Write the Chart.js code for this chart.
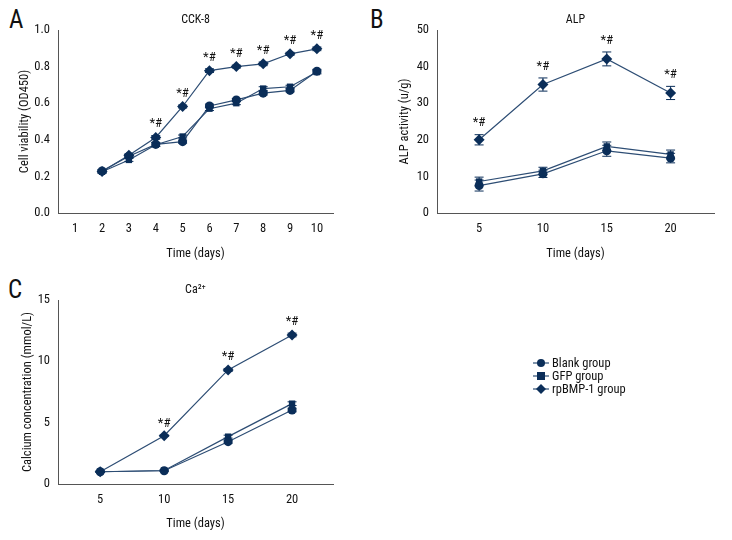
<!DOCTYPE html>
<html><head><meta charset="utf-8">
<script src="https://cdn.jsdelivr.net/npm/chart.js@4"></script>
<style>
body{margin:0;background:#fff;width:732px;height:540px;position:relative;overflow:hidden}
canvas{position:absolute}
.lbl{position:absolute;font-family:'Roboto Condensed','Liberation Sans Narrow','Roboto',sans-serif;font-size:25px;color:#111}
#legend{position:absolute;left:533px;top:356px;font-family:'Roboto Condensed','Liberation Sans Narrow','Roboto',sans-serif;font-size:12.5px;color:#111}
#legend div{height:13px;line-height:13px;display:flex;align-items:center}
#legend span{white-space:nowrap}
#legend canvas{position:static;margin-right:3px}
</style></head>
<body>
<div class="lbl" style="left:9px;top:5px">A</div>
<div class="lbl" style="left:370px;top:5px">B</div>
<div class="lbl" style="left:8px;top:275px">C</div>
<canvas id="cA" width="345" height="265" style="left:0;top:0"></canvas>
<canvas id="cB" width="372" height="265" style="left:360px;top:0"></canvas>
<canvas id="cC" width="345" height="265" style="left:0;top:270px"></canvas>
<div id="legend"></div>
<script>
/* ── data ── */
var GROUPS=['Blank group','GFP group','rpBMP-1 group'];
var STYLES=['circle','rect','rectRot'];

var daysA=[2,3,4,5,6,7,8,9,10];
var blankA=[0.23,0.31,0.375,0.39,0.585,0.618,0.655,0.67,0.775];
var gfpA=[0.225,0.29,0.373,0.418,0.57,0.60,0.68,0.69,0.77];
var bmpA=[0.227,0.315,0.413,0.582,0.778,0.80,0.815,0.87,0.897];
var errA=[0.008,0.008,0.01,0.008,0.01,0.008,0.01,0.008,0.01];
var sigA=[false,false,true,true,true,true,true,true,true];
var ticksA=[0,0.2,0.4,0.6,0.8,1.0];

var daysB=[5,10,15,20];
var blankB=[7.5,10.7,17,15];
var gfpB=[8.6,11.5,18.2,16];
var bmpB=[20,35.1,42.1,32.8];
var errBlankB=[1.5,1,1.5,1.3];
var errGfpB=[1.2,1,1.2,1.2];
var errBmpB=[1.4,1.8,1.9,1.8];
var sigB=[true,true,true,true];

var daysC=[5,10,15,20];
var blankC=[1.0,1.08,3.45,6.03];
var gfpC=[1.0,1.1,3.86,6.55];
var bmpC=[1.0,3.94,9.3,12.15];
var errC=[0.05,0.05,0.12,0.15];
var sigC=[false,true,true,true];

var NAVY='#0b2e59', LINE='#2d4d74', AXIS='#555';
var FONT="'Roboto Condensed','Liberation Sans Narrow','Roboto',sans-serif";

function pts(xs,ys){ return xs.map(function(x,i){return {x:x,y:ys[i]};}); }
function ds(i,xs,ys,err){
  return {label:GROUPS[i],data:pts(xs,ys),err:err,pointStyle:STYLES[i],
    pointRadius:i===2?5.5:4.5,backgroundColor:NAVY,borderColor:LINE,pointBorderColor:NAVY,
    borderWidth:1.2,pointBorderWidth:0,tension:0};
}

/* error bars + "*#" marks + panel title */
var extras={
  id:'extras',
  afterDatasetsDraw:function(chart){
    var c=chart.ctx, xs=chart.scales.x, ys=chart.scales.y, o=chart.options.plugins.extras;
    c.save();
    c.strokeStyle=NAVY;c.lineWidth=1;
    chart.data.datasets.forEach(function(d){
      d.data.forEach(function(p,i){
        var e=d.err[i]; if(!e) return;
        var px=xs.getPixelForValue(p.x), y1=ys.getPixelForValue(p.y+e), y2=ys.getPixelForValue(p.y-e);
        c.beginPath();
        c.moveTo(px,y1);c.lineTo(px,y2);
        c.moveTo(px-4.5,y1);c.lineTo(px+4.5,y1);
        c.moveTo(px-4.5,y2);c.lineTo(px+4.5,y2);
        c.stroke();
      });
    });
    var top=chart.data.datasets[2];
    c.fillStyle='#111';c.font='13px '+FONT;c.textAlign='center';c.textBaseline='bottom';
    top.data.forEach(function(p,i){
      if(!o.sig[i]) return;
      c.fillText('*#',xs.getPixelForValue(p.x),ys.getPixelForValue(p.y+(top.err[i]||0))-5);
    });
    c.font='12px '+FONT;c.textBaseline='middle';
    c.fillText(o.title,(chart.chartArea.left+chart.chartArea.right)/2,20);
    c.restore();
  }
};

function makeChart(id,datasets,opt){
  return new Chart(document.getElementById(id),{
    type:'line',
    data:{datasets:datasets},
    plugins:[extras],
    options:{
      responsive:false,animation:false,
      layout:{padding:{top:opt.top,right:opt.right,left:0,bottom:0}},
      plugins:{legend:{display:false},tooltip:{enabled:false},extras:{sig:opt.sig,title:opt.title}},
      scales:{
        x:{type:'linear',min:opt.xmin,max:opt.xmax,
          afterBuildTicks:function(s){s.ticks=opt.xticks.map(function(v){return {value:v};});},
          grid:{display:false,drawTicks:true,tickLength:5,tickColor:AXIS},
          border:{color:AXIS,width:1},
          ticks:{color:'#111',font:{family:FONT,size:12.5},padding:3,maxRotation:0},
          title:{display:true,text:'Time (days)',color:'#111',font:{family:FONT,size:12.5},padding:{top:2}},
          afterFit:function(s){s.height=opt.xh;}},
        y:{min:opt.ymin,max:opt.ymax,
          afterBuildTicks:function(s){s.ticks=opt.yticks.map(function(v){return {value:v};});},
          grid:{display:false,drawTicks:true,tickLength:5,tickColor:AXIS},
          border:{color:AXIS,width:1},
          ticks:{color:'#111',font:{family:FONT,size:12.5},padding:3,callback:opt.fmt},
          title:{display:true,text:opt.ytitle,color:'#111',font:{family:FONT,size:12.5},padding:{top:opt.ytp,bottom:4}},
          afterFit:function(s){s.width=opt.yw;}}
      }
    }
  });
}

makeChart('cA',[ds(0,daysA,blankA,errA),ds(1,daysA,gfpA,errA),ds(2,daysA,bmpA,errA)],
  {top:30,right:12,xh:52,yw:58,ytp:17,xmin:0.36,xmax:10.6,xticks:[1,2,3,4,5,6,7,8,9,10],
   ymin:0,ymax:1,yticks:ticksA,fmt:function(v){return v.toFixed(1);},
   ytitle:'Cell viability (OD450)',sig:sigA,title:'CCK-8'});

makeChart('cB',[ds(0,daysB,blankB,errBlankB),ds(1,daysB,gfpB,errGfpB),ds(2,daysB,bmpB,errBmpB)],
  {top:30,right:18,xh:52,yw:77,ytp:37,xmin:1.7,xmax:23.4,xticks:daysB,
   ymin:0,ymax:50,yticks:[0,10,20,30,40,50],fmt:function(v){return v;},
   ytitle:'ALP activity (u/g)',sig:sigB,title:'ALP'});

makeChart('cC',[ds(0,daysC,blankC,errC),ds(1,daysC,gfpC,errC),ds(2,daysC,bmpC,errC)],
  {top:30,right:12,xh:51,yw:58,ytp:20,xmin:1.7,xmax:23.2,xticks:daysC,
   ymin:0,ymax:15,yticks:[0,5,10,15],fmt:function(v){return v;},
   ytitle:'Calcium concentration (mmol/L)',sig:sigC,title:'Ca²⁺'});

// legend
var leg=document.getElementById('legend');
GROUPS.forEach(function(g,i){
  var row=document.createElement('div');
  var cv=document.createElement('canvas');cv.width=16;cv.height=12;
  var c=cv.getContext('2d');
  c.strokeStyle=LINE;c.lineWidth=1.2;c.beginPath();c.moveTo(0,6);c.lineTo(16,6);c.stroke();
  c.fillStyle=NAVY;c.beginPath();
  if(i===0){c.arc(8,6,4,0,Math.PI*2);}
  else if(i===1){c.rect(4,2,8,8);}
  else{c.moveTo(8,1);c.lineTo(13,6);c.lineTo(8,11);c.lineTo(3,6);c.closePath();}
  c.fill();
  var sp=document.createElement('span');sp.textContent=g;
  row.appendChild(cv);row.appendChild(sp);
  leg.appendChild(row);
});
</script>
</body></html>
